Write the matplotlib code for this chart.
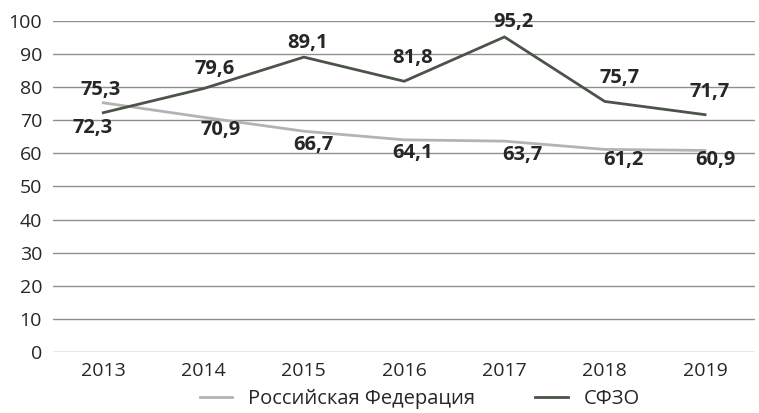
import matplotlib
matplotlib.use("Agg")
import matplotlib.pyplot as plt

plt.rcParams['font.family'] = ['Open Sans', 'DejaVu Sans']

# --- Данные ---
years = ['2013', '2014', '2015', '2016', '2017', '2018', '2019']
rf_values = [75.3, 70.9, 66.7, 64.1, 63.7, 61.2, 60.9]
sfzo_values = [72.3, 79.6, 89.1, 81.8, 95.2, 75.7, 71.7]
rf_label = 'Российская Федерация'
sfzo_label = 'СФЗО'

# смещения подписей (в пикселях, x, y вверх)
rf_offsets = [(-3, 13), (17, -13), (10, -14), (8, -13), (18, -14), (19, -11), (10, -10)]
sfzo_offsets = [(-11, -15), (11, 20), (4, 14), (8, 23), (9, 15), (15, 23), (5, 23)]

RF_COLOR = '#b3b3b3'
SFZO_COLOR = '#4b5448'
TEXT_COLOR = '#262626'

fig = plt.figure(figsize=(7.59, 4.13), dpi=100)
ax = fig.add_axes([0.07, 0.148, 0.925, 0.801])

x = list(range(len(years)))
ax.plot(x, rf_values, color=RF_COLOR, lw=2, label=rf_label)
ax.plot(x, sfzo_values, color=SFZO_COLOR, lw=2, label=sfzo_label)


def fmt(v):
    return f'{v:.1f}'.replace('.', ',')


for xi, v, (dx, dy) in zip(x, rf_values, rf_offsets):
    ax.annotate(fmt(v), (xi, v), xytext=(dx * 0.72, dy * 0.72), textcoords='offset points',
                ha='center', va='center', fontsize=14.5, fontweight='bold', color=TEXT_COLOR)
for xi, v, (dx, dy) in zip(x, sfzo_values, sfzo_offsets):
    ax.annotate(fmt(v), (xi, v), xytext=(dx * 0.72, dy * 0.72), textcoords='offset points',
                ha='center', va='center', fontsize=14.5, fontweight='bold', color=TEXT_COLOR)

ax.set_xlim(-0.5, len(years) - 0.5)
ax.set_ylim(0, 100)
ax.set_yticks(range(0, 101, 10))
ax.set_xticks(x)
ax.set_xticklabels(years)
ax.yaxis.grid(True, color='#8f8f8f', lw=1)
ax.set_axisbelow(True)
for s in ax.spines.values():
    s.set_visible(False)
ax.tick_params(length=0, labelsize=14, colors=TEXT_COLOR)
ax.tick_params(axis='x', pad=7)
ax.tick_params(axis='y', pad=8)

fig.legend(loc='lower center', bbox_to_anchor=(0.553, -0.035), ncol=2, frameon=False,
           fontsize=14.5, handlelength=1.6, columnspacing=3.0, labelcolor=TEXT_COLOR)

fig.savefig('out.png', dpi=100)
